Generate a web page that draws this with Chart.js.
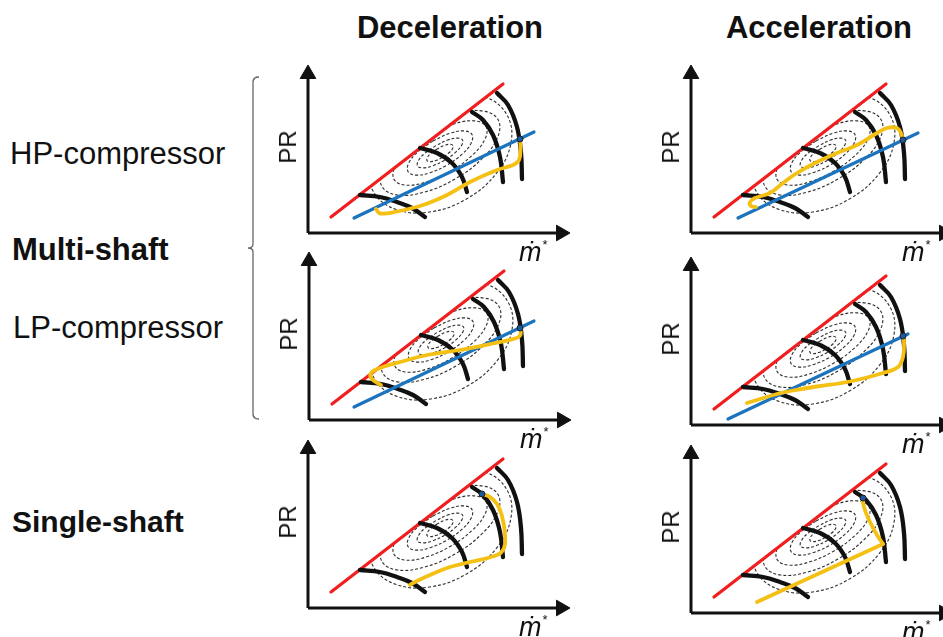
<!DOCTYPE html>
<html>
<head>
<meta charset="utf-8">
<script src="https://cdn.jsdelivr.net/npm/chart.js@4.4.0/dist/chart.umd.min.js"></script>
<style>
html, body { margin: 0; padding: 0; width: 943px; height: 637px; overflow: hidden; background: #fff; }
body { position: relative; font-family: "Liberation Sans", Arial, sans-serif; color: #111; }
canvas { position: absolute; }
.t { position: absolute; white-space: nowrap; line-height: 1; font-size: 31px; }
.b { font-weight: bold; }
.pr { position: absolute; white-space: nowrap; line-height: 1; font-size: 24px; transform: translate(-50%, -50%) rotate(-90deg); }
.m { position: absolute; white-space: nowrap; line-height: 1; font-size: 27px; font-style: italic; }
.m sup { font-size: 13px; font-style: normal; vertical-align: 12px; margin-left: 1px; }
svg { position: absolute; left: 0; top: 0; }
</style>
</head>
<body>

<div class="t b" style="left:450px; top:12px; transform:translateX(-50%)">Deceleration</div>
<div class="t b" style="left:819px; top:12px; transform:translateX(-50%)">Acceleration</div>
<div class="t" style="left:10px; top:138px">HP-compressor</div>
<div class="t b" style="left:12px; top:234px">Multi-shaft</div>
<div class="t" style="left:13px; top:312px">LP-compressor</div>
<div class="t b" style="left:12px; top:507px; font-size:30px">Single-shaft</div>

<svg width="943" height="637">
  <path d="M259,77 Q253,77 253,82 L253,244 Q253,248 248,248 Q253,248 253,252 L253,414 Q253,419 259,419"
        fill="none" stroke="#666" stroke-width="1.3"/>
</svg>

<script>
// compressor map, shared by all six panels (x = m*, y = PR, drawing units)
const surgeLine = [[23, 16], [195, 149]];

const speedLine1 = [[52, 38], [72, 36], [89, 31], [104, 25], [117, 16]];
const speedLine2 = [[112, 85], [129, 80], [144, 70], [154, 56], [159, 41]];
const speedLine3 = [[164, 121], [175, 113], [185, 98], [192, 76], [195, 51]];
const speedLine4 = [[189, 140], [200, 128], [209, 106], [213, 80], [214, 54]];

// efficiency islands (dashed), inner to outer
const eff1 = [[129.5, 84.3], [123.3, 80], [119.5, 75.7], [119, 72.5], [122, 71.3], [127.7, 72.5], [134.5, 75.7],
              [140.7, 80], [144.5, 84.3], [145, 87.5], [142, 88.7], [136.3, 87.5], [129.5, 84.3]];
const eff2 = [[127.8, 87.4], [117.1, 79.9], [110.4, 72.4], [109.5, 67], [114.6, 65.1], [124.4, 67.1], [136.3, 72.6],
              [146.9, 80.1], [153.6, 87.6], [154.5, 93], [149.4, 94.9], [139.6, 92.9], [127.8, 87.4]];
const eff3 = [[125, 92.1], [109.9, 81.2], [100.8, 70.1], [100, 61.5], [107.8, 57.9], [122.1, 60.3], [139, 67.9],
              [154.1, 78.8], [163.2, 89.9], [164, 98.5], [156.2, 102.1], [141.9, 99.7], [125, 92.1]];
const eff4 = [[121.5, 98.2], [100, 82.5], [87, 66.1], [86.1, 53.5], [97.5, 47.9], [118.2, 51], [142.5, 61.8],
              [164, 77.5], [177, 93.9], [177.9, 106.5], [166.5, 112.1], [145.8, 109], [121.5, 98.2]];
const eff5 = [[117, 106], [90, 85.8], [74.3, 64], [74, 46.5], [89.3, 38], [116, 40.8], [147, 54],
              [174, 74.3], [189.7, 96], [190, 113.5], [174.7, 122], [148, 119.3], [117, 106]];
const eff6 = [[105.5, 125.9], [75.7, 100.5], [61, 69.6], [65.3, 41.5], [87.5, 23.8], [121.6, 21], [158.5, 34.1],
              [188.3, 59.6], [203, 90.5], [198.7, 118.5], [176.5, 136.3], [142.4, 139], [105.5, 125.9]];

// axes with arrows
const yAxis = [[0, 0], [0, 160]];
const yArrow = [[0, 159]];
const xAxis = [[0, 0], [254, 0]];
const xArrow = [[253, 0]];

// operating lines (blue)
const blueHPdec = [[46, 15], [226, 101]];
const blueHPacc = [[47, 15], [227, 100]];
const blueLPdec = [[45, 13], [225, 99]];
const blueLPacc = [[37, 6], [217, 91]];

// transient paths (yellow)
const yellowHPdec = [[212, 94], [212.5, 85], [211, 73], [205, 68], [189, 63], [162, 51], [139, 38], [115, 28],
                     [89, 21.5], [72, 19.5], [68, 24]];
const yellowHPacc = [[65, 26], [60, 27], [59, 31], [64, 35], [79, 40], [92, 50], [106, 60], [126, 71], [146, 80],
                     [166, 88], [186, 100], [196, 105], [206, 105], [210, 100], [212, 93]];
const yellowLPdec = [[211, 92], [211.5, 85], [206, 81.5], [184, 76.5], [151, 70], [118, 65], [91, 58], [71, 52],
                     [62, 47], [63, 41], [72, 35]];
const yellowLPacc = [[212, 89], [213, 83], [212, 68], [207, 58], [192, 52], [159, 43.5], [126, 38.5], [102, 34.5],
                     [86, 31], [66, 25], [56, 22]];
const yellowSSdec = [[174, 114], [182, 111], [189, 104], [194, 92], [197, 74], [196, 60], [189, 53], [162, 46],
                     [142, 41], [122, 33], [109, 27], [102, 23]];
const yellowSSacc = [[172, 115], [172, 110], [175, 100], [180, 89], [186, 78], [192, 69]];
const yellowSSaccBack = [[192, 69], [66, 11]];

// design points (blue dots)
const dotHPdec = [[212, 94]];
const dotHPacc = [[212, 93]];
const dotLPdec = [[211, 92]];
const dotLPacc = [[212, 89]];
const dotSSdec = [[174, 114]];
const dotSSacc = [[172, 115]];

const RED = '#f01e1e', BLUE = '#1b74bd', YELLOW = '#f5c014', BLACK = '#111';
const PADL = 10, PADR = 15, PADT = 10, PADB = 12, W = 262, H = 170;

const panels = [
  {ox: 308, oy: 233, blue: blueHPdec, yellow: [yellowHPdec], dot: dotHPdec},
  {ox: 691, oy: 233, blue: blueHPacc, yellow: [yellowHPacc], dot: dotHPacc},
  {ox: 309, oy: 420, blue: blueLPdec, yellow: [yellowLPdec], dot: dotLPdec},
  {ox: 691, oy: 425, blue: blueLPacc, yellow: [yellowLPacc], dot: dotLPacc},
  {ox: 308, oy: 608, blue: null, yellow: [yellowSSdec], dot: dotSSdec},
  {ox: 691, oy: 613, blue: null, yellow: [yellowSSacc, yellowSSaccBack], dot: dotSSacc},
];

const pts = a => a.map(p => ({x: p[0], y: p[1]}));

function line(data, color, width, order, extra) {
  return Object.assign({
    data: pts(data), showLine: true, borderColor: color, borderWidth: width, pointRadius: 0,
    tension: 0.4, fill: false, clip: false, order: order,
    borderCapStyle: 'round', borderJoinStyle: 'round'
  }, extra || {});
}

function addText(cls, html, left, top) {
  const d = document.createElement('div');
  d.className = cls;
  d.innerHTML = html;
  d.style.left = left + 'px';
  d.style.top = top + 'px';
  document.body.appendChild(d);
}

panels.forEach(p => {
  const cv = document.createElement('canvas');
  cv.width = PADL + W + PADR;
  cv.height = PADT + H + PADB;
  cv.style.left = (p.ox - PADL) + 'px';
  cv.style.top = (p.oy - H - PADT) + 'px';
  document.body.appendChild(cv);

  const ds = [];
  [eff1, eff2, eff3, eff4, eff5, eff6].forEach(e =>
    ds.push(line(e, '#2e2e2e', 1.1, 6, {borderDash: [3, 2], borderCapStyle: 'butt'})));
  // white area above the surge line hides the unreachable part of the map
  ds.push(line(surgeLine, 'rgba(0,0,0,0)', 0, 5, {fill: 'end', backgroundColor: '#fff', tension: 0}));
  ds.push(line(surgeLine, RED, 3.2, 4, {tension: 0}));
  [speedLine1, speedLine2, speedLine3, speedLine4].forEach(s => ds.push(line(s, BLACK, 4.3, 3)));
  if (p.blue) ds.push(line(p.blue, BLUE, 3.2, 2, {tension: 0}));
  p.yellow.forEach((y, i) => ds.push(line(y, YELLOW, 3.8, 1, {tension: i === 0 ? 0.4 : 0})));
  ds.push({data: pts(p.dot), showLine: false, pointRadius: 3, pointBackgroundColor: '#1a5a9c',
           pointBorderColor: '#222', pointBorderWidth: 1, clip: false, order: 0});
  ds.push(line(yAxis, BLACK, 3, 0, {tension: 0, borderCapStyle: 'butt'}));
  ds.push(line(xAxis, BLACK, 3, 0, {tension: 0, borderCapStyle: 'butt'}));
  ds.push({data: pts(yArrow), showLine: false, pointStyle: 'triangle', pointRadius: 9, rotation: 0,
           pointBackgroundColor: BLACK, pointBorderColor: BLACK, pointBorderWidth: 1, clip: false, order: 0});
  ds.push({data: pts(xArrow), showLine: false, pointStyle: 'triangle', pointRadius: 9, rotation: 90,
           pointBackgroundColor: BLACK, pointBorderColor: BLACK, pointBorderWidth: 1, clip: false, order: 0});

  new Chart(cv.getContext('2d'), {
    type: 'scatter',
    data: {datasets: ds},
    options: {
      responsive: false,
      animation: false,
      devicePixelRatio: 1,
      events: [],
      layout: {padding: {left: PADL, right: PADR, top: PADT, bottom: PADB}},
      plugins: {legend: {display: false}, tooltip: {enabled: false}},
      scales: {
        x: {type: 'linear', min: 0, max: W, display: false},
        y: {type: 'linear', min: 0, max: H, display: false}
      }
    }
  });

  addText('pr', 'PR', p.ox - 20, p.oy - 86);
  addText('m', 'ṁ<sup>*</sup>', p.ox + 211, p.oy + 5);
});
</script>
</body>
</html>
